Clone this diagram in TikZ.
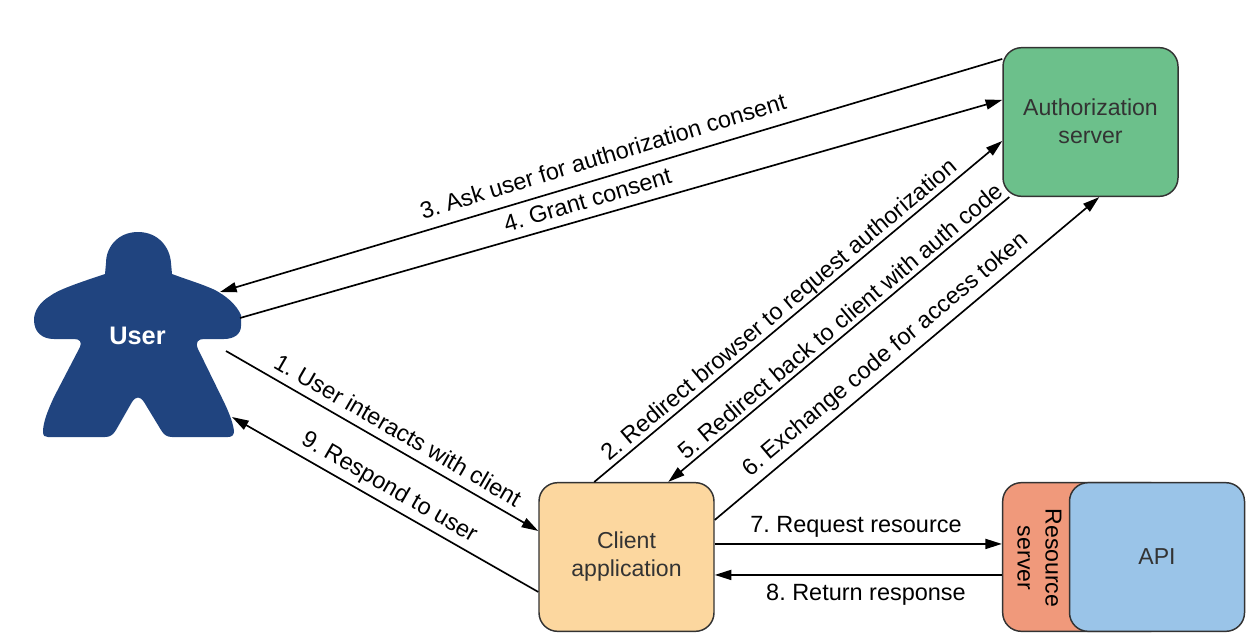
\documentclass[tikz,border=0pt]{standalone}
\usepackage{fontspec}
\setmainfont{Liberation Sans}
\usetikzlibrary{arrows.meta,calc}
\frenchspacing
\definecolor{usercol}{HTML}{20447F}
\definecolor{authcol}{HTML}{6CC08B}
\definecolor{clientcol}{HTML}{FCD79F}
\definecolor{rescol}{HTML}{F0997B}
\definecolor{apicol}{HTML}{9AC4E8}
\definecolor{edgecol}{HTML}{333333}
\tikzset{
  boxnode/.style={draw=edgecol,line width=1.1pt,rounded corners=14pt,inner sep=0pt,minimum width=131.25pt,minimum height=111.5pt,align=center,text=edgecol,font=\fontsize{17.3}{21}\selectfont},
  conn/.style={line width=1.25pt,black,-{Triangle[length=12.5pt,width=7.5pt]}},
  lab/.style={font=\fontsize{17.6}{21}\selectfont,inner sep=0pt,black},
}
\begin{document}
\begin{tikzpicture}[x=0.75pt,y=-0.75pt]
\useasboundingbox (0,0) rectangle (1251,639);
% user figure
\fill[usercol] (138,232)
  .. controls (118,232) and (106,247) .. (106,263)
  -- (105,274)
  .. controls (75,284) and (58,290) .. (50,296)
  .. controls (40,302) and (34,311) .. (34,320)
  .. controls (34,332) and (42,339) .. (54,339)
  -- (74,339)
  .. controls (80,339) and (82,342) .. (80,347)
  -- (54,397)
  .. controls (48,410) and (43,422) .. (43,432)
  .. controls (43,436) and (45,437) .. (48,437)
  -- (105,437)
  .. controls (110,437) and (113,435) .. (116,430)
  -- (132,402)
  .. controls (136,396) and (140,396) .. (144,402)
  -- (161,430)
  .. controls (164,435) and (167,437) .. (172,437)
  -- (228,437)
  .. controls (232,437) and (234,435) .. (234,431)
  .. controls (233,422) and (228,410) .. (222,398)
  -- (198,349)
  .. controls (195,342) and (198,339) .. (204,339)
  -- (224,339)
  .. controls (234,339) and (241,334) .. (241,326)
  -- (241,315)
  .. controls (236,304) and (226,296) .. (215,290)
  .. controls (202,284) and (188,280) .. (172,274)
  -- (171,263)
  .. controls (170,247) and (158,232) .. (138,232) -- cycle;
\node[font=\bfseries\fontsize{19}{22}\selectfont,text=white,inner sep=0pt,minimum width=155pt,minimum height=153.75pt] (user) at (137.5,335.5) {User};
\node[boxnode,fill=authcol] (auth) at (1090.5,122) {\raisebox{1.3pt}{Authorization}\\\raisebox{1.3pt}{server}};
\node[boxnode,fill=clientcol] (client) at (626.5,557) {\raisebox{-0.7pt}{Client}\\\raisebox{-0.7pt}{application}};
\node[boxnode,fill=rescol,minimum width=125pt] (res) at (1086,557) {};
\node[boxnode,fill=apicol] (api) at (1157,557) {API};
\node[rotate=270,align=center,inner sep=0pt,text=black,font=\fontsize{17.3}{21}\selectfont] (reslab) at (1039.5,558) {Resource\\server};
% connectors
\draw[conn] ($(auth.north west)+(0,12)$) -- ($(user.center)+(82.5,-43.5)$);
\draw[conn] ($(user.center)+(102.5,-17.5)$) -- ($(auth.north west)+(0,53)$);
\draw[conn] ($(client.north west)+(56,0)$) -- ($(auth.north west)+(0,94)$);
\draw[conn] ($(auth.south west)+(7,0)$) -- ($(client.north west)+(130,0)$);
\draw[conn] ($(client.north east)+(0,38)$) -- ($(auth.south west)+(97,0)$);
\draw[conn] ($(user.center)+(88.5,15.5)$) -- ($(client.north west)+(0,49)$);
\draw[conn] ($(client.north west)+(0,110)$) -- ($(user.center)+(94.5,81.5)$);
\draw[conn,line width=1.5pt] ($(client.north east)+(0,62)$) -- ($(res.north west)+(0,62)$);
\draw[conn,line width=1.5pt] ($(res.north west)+(0,93)$) -- ($(client.north east)+(0,93)$);
% labels
\node[lab,rotate=16.9] (l3) at (603,156) {3. Ask user for authorization consent};
\node[lab,rotate=16.5] (l4) at (587.5,200) {4. Grant consent};
\node[lab,rotate=40] (l2) at (780,311) {2. Redirect browser to request authorization};
\node[lab,rotate=40] (l5) at (840,321) {5. Redirect back to client with auth code};
\node[lab,rotate=40] (l6) at (886,355) {6. Exchange code for access token};
\node[lab,rotate=-30] (l1) at (398,430) {1. User interacts with client};
\node[lab,rotate=-30] (l9) at (389,488) {9. Respond to user};
\node[lab] (l7) at (856,526.5) {7. Request resource};
\node[lab] (l8) at (866,595) {8. Return response};
\end{tikzpicture}
\end{document}
